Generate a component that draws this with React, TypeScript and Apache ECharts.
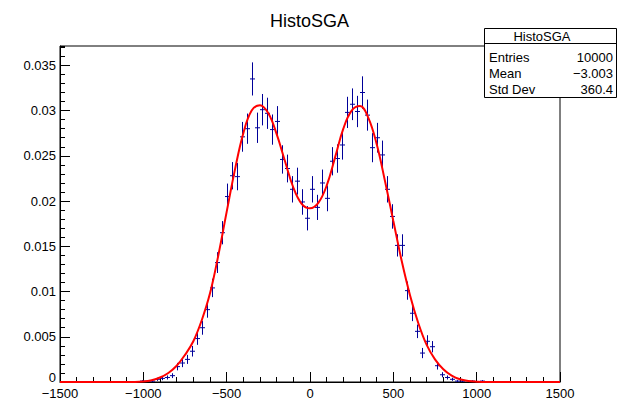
import React, { useEffect, useRef } from "react";
import * as echarts from "echarts";

const TITLE = "HistoSGA";
const ENTRIES = 10000;
const STATS_LABELS = ["Entries", "Mean", "Std Dev"];
const STATS_VALUES = ["10000", "\u22123.003", "360.4"];

const BIN_LOW = -1500;
const BIN_WIDTH = 30;
// bin contents (normalised), 100 bins from -1500 to 1500
const binValues = [
  0, 0, 0, 0, 0, 0, 0, 0, 0, 0, 0, 0, 0, 0, 0, 0,
  0.0001, 0.0001, 0.0001, 0.0003, 0.0004, 0.0005, 0.0007, 0.0017, 0.0021, 0.0025,
  0.0034, 0.0048, 0.006, 0.008, 0.0104, 0.0132, 0.0165, 0.0205, 0.0228, 0.0227,
  0.0271, 0.028, 0.0335, 0.0281, 0.0301, 0.0297, 0.0279, 0.0288, 0.0246, 0.0236,
  0.0213, 0.0222, 0.0199, 0.0181, 0.0213, 0.0193, 0.022, 0.0203, 0.0244, 0.0247,
  0.0262, 0.0298, 0.0307, 0.0299, 0.032, 0.0295, 0.0259, 0.027, 0.0251, 0.0213,
  0.0183, 0.0151, 0.0151, 0.0101, 0.0076, 0.0056, 0.0032, 0.0045, 0.0039, 0.0018,
  0.0008, 0.0005, 0.0003, 0.0001, 0.0001, 0, 0.0001, 0, 0.0001,
  0, 0, 0, 0, 0, 0, 0, 0, 0, 0, 0, 0, 0, 0, 0,
];

const fitX = [
  -1500, -1450, -1400, -1350, -1300, -1250, -1200, -1150, -1100, -1050,
  -1000, -950, -900, -850, -800, -750, -700, -650, -600, -550,
  -500, -450, -400, -350, -300, -250, -200, -150, -100, -50,
  0, 50, 100, 150, 200, 250, 300, 350, 400, 450,
  500, 550, 600, 650, 700, 750, 800, 850, 900, 950,
  1000, 1050, 1100, 1150, 1200, 1250, 1300, 1350, 1400, 1450, 1500,
];
const fitY = [
  0, 0, 0, 0, 0, 0, 0, 0, 0, 0,
  0.00005, 0.0002, 0.0005, 0.001, 0.0018, 0.003, 0.0045, 0.0068, 0.0098, 0.014,
  0.0188, 0.0235, 0.0275, 0.03, 0.0306, 0.0297, 0.0274, 0.0244, 0.0215, 0.0197,
  0.0192, 0.0198, 0.0217, 0.0248, 0.028, 0.03, 0.0305, 0.0292, 0.0263, 0.0222,
  0.0178, 0.0134, 0.0096, 0.0065, 0.0041, 0.0025, 0.0014, 0.0007, 0.0003, 0.00012,
  0.00004, 0, 0, 0, 0, 0, 0, 0, 0, 0, 0,
];

const X_MIN = -1500;
const X_MAX = 1500;
const X_MAJOR = 500;
const X_MINOR = 100;
const Y_MIN = 0;
const Y_MAX = 0.03714;
const Y_MAJOR = 0.005;
const Y_MINOR = 0.001;

const FONT = "Liberation Sans, Arial, Helvetica, sans-serif";
const HIST_COLOR = "#000099";

function fmtX(v: number) {
  const r = Math.round(v);
  return r < 0 ? "\u2212" + Math.abs(r) : String(r);
}
function fmtY(v: number) {
  const r = Math.round(v * 1000) / 1000;
  if (Math.abs(r / Y_MAJOR - Math.round(r / Y_MAJOR)) > 1e-6) return "";
  if (r === 0) return "{zero|0}";
  return String(r);
}

export default function App() {
  const ref = useRef<HTMLDivElement>(null);
  useEffect(() => {
    if (!ref.current) return;
    const chart = echarts.init(ref.current, null, { renderer: "svg" });
    const histData = binValues
      .map((v, i) => [BIN_LOW + BIN_WIDTH * (i + 0.5), v, Math.sqrt(v * ENTRIES) / ENTRIES])
      .filter((d) => d[1] > 0);
    const fitData = fitX.map((x, i) => [x, fitY[i]]);

    const axisLabelStyle = { color: "#000", fontSize: 13, fontFamily: FONT };

    chart.setOption({
      animation: false,
      backgroundColor: "#fff",
      title: {
        text: TITLE,
        left: "center",
        top: 7,
        textStyle: { fontSize: 18, fontWeight: "normal", color: "#000", fontFamily: FONT },
      },
      grid: {
        left: 60,
        right: 59,
        top: 46,
        bottom: 19,
        show: true,
        borderColor: "#000",
        borderWidth: 1,
        backgroundColor: "transparent",
      },
      xAxis: [
        {
          type: "value",
          min: X_MIN,
          max: X_MAX,
          interval: X_MAJOR,
          position: "bottom",
          axisLine: { show: true, onZero: false, lineStyle: { color: "#000", width: 1 } },
          axisTick: { show: true, inside: true, length: 10, lineStyle: { color: "#000" } },
          axisLabel: { ...axisLabelStyle, margin: 5, formatter: fmtX },
          splitLine: { show: false },
        },
        {
          type: "value",
          min: X_MIN,
          max: X_MAX,
          interval: X_MINOR,
          position: "bottom",
          offset: 0,
          axisLine: { show: false, onZero: false },
          axisTick: { show: true, inside: true, length: 5, lineStyle: { color: "#000" } },
          axisLabel: { show: false },
          splitLine: { show: false },
        },
      ],
      yAxis: [
        {
          type: "value",
          min: Y_MIN,
          max: Y_MAX,
          interval: Y_MAJOR,
          position: "left",
          axisLine: { show: true, onZero: false, lineStyle: { color: "#000", width: 1 } },
          axisTick: { show: true, inside: true, length: 10, lineStyle: { color: "#000" } },
          axisLabel: {
            ...axisLabelStyle,
            margin: 4,
            formatter: fmtY,
            showMaxLabel: false,
            rich: { zero: { fontSize: 13, fontFamily: FONT, color: "#000", padding: [0, 0, 9, 0] } },
          },
          splitLine: { show: false },
        },
        {
          type: "value",
          min: Y_MIN,
          max: Y_MAX,
          interval: Y_MINOR,
          position: "left",
          offset: 0,
          axisLine: { show: false, onZero: false },
          axisTick: { show: true, inside: true, length: 5, lineStyle: { color: "#000" } },
          axisLabel: { show: false },
          splitLine: { show: false },
        },
      ],
      series: [
        {
          type: "custom",
          xAxisIndex: 0,
          yAxisIndex: 0,
          data: histData,
          renderItem: (params: any, api: any) => {
            const x = api.value(0);
            const y = api.value(1);
            const e = api.value(2);
            const c = api.coord([x, y]);
            const l = api.coord([x - BIN_WIDTH / 2, y]);
            const r = api.coord([x + BIN_WIDTH / 2, y]);
            const t = api.coord([x, y + e]);
            const b = api.coord([x, y - e]);
            const style = { stroke: HIST_COLOR, lineWidth: 1 };
            return {
              type: "group",
              children: [
                { type: "line", shape: { x1: l[0], y1: c[1], x2: r[0], y2: c[1] }, style },
                { type: "line", shape: { x1: c[0], y1: t[1], x2: c[0], y2: b[1] }, style },
              ],
            };
          },
          z: 2,
        },
        {
          type: "line",
          xAxisIndex: 0,
          yAxisIndex: 0,
          data: fitData,
          smooth: 0.4,
          showSymbol: false,
          symbol: "none",
          clip: false,
          lineStyle: { color: "#ff0000", width: 2 },
          z: 3,
        },
      ],
      graphic: [
        {
          type: "group",
          z: 100,
          children: [
            {
              type: "rect",
              shape: { x: 484.5, y: 28.5, width: 132, height: 69 },
              style: { fill: "#fff", stroke: "#000", lineWidth: 1 },
            },
            {
              type: "line",
              shape: { x1: 484.5, y1: 43.5, x2: 616.5, y2: 43.5 },
              style: { stroke: "#000", lineWidth: 1 },
            },
            {
              type: "text",
              x: 542,
              y: 36,
              style: {
                text: TITLE,
                fill: "#000",
                fontSize: 13,
                fontFamily: FONT,
                align: "center",
                verticalAlign: "middle",
              },
            },
            ...STATS_LABELS.map((s, i) => ({
              type: "text",
              x: 489,
              y: 57 + i * 16.3,
              style: {
                text: s,
                fill: "#000",
                fontSize: 13,
                fontFamily: FONT,
                align: "left",
                verticalAlign: "middle",
              },
            })),
            ...STATS_VALUES.map((s, i) => ({
              type: "text",
              x: 613,
              y: 57 + i * 16.3,
              style: {
                text: s,
                fill: "#000",
                fontSize: 13,
                fontFamily: FONT,
                align: "right",
                verticalAlign: "middle",
              },
            })),
          ],
        },
      ],
    });
    return () => chart.dispose();
  }, []);
  return (
    <div
      ref={ref}
      style={{ position: "absolute", left: 0, top: 0, width: 619, height: 401, background: "#fff" }}
    />
  );
}
